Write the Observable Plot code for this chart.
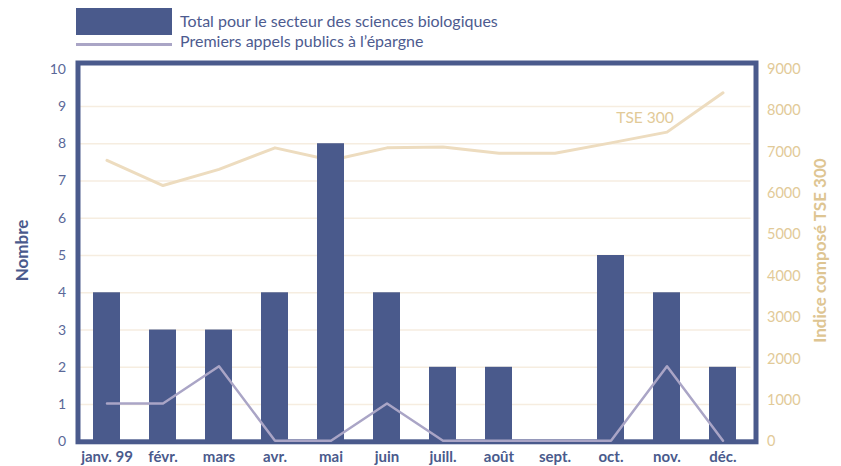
<!DOCTYPE html>
<html><head><meta charset="utf-8">
<script src="https://cdn.jsdelivr.net/npm/d3@7"></script>
<script src="https://cdn.jsdelivr.net/npm/@observablehq/plot@0.6"></script>
<style>
body{margin:0;background:#fff;font-family:Lato,"Open Sans",sans-serif;}
#legend{position:relative;height:55px;width:841px;}
#legend .sw{position:absolute;}
#legend .lb{position:absolute;font-size:16px;color:#4d5b8f;white-space:nowrap;line-height:1;}
</style></head>
<body>
<div id="legend">
  <div class="sw" style="left:76px;top:8px;width:96px;height:27px;background:#4a5a8c"></div>
  <div class="lb" style="left:180px;top:13px">Total pour le secteur des sciences biologiques</div>
  <div class="sw" style="left:76px;top:43px;width:96px;height:3px;background:#aaa5c6"></div>
  <div class="lb" style="left:180px;top:33px">Premiers appels publics à l’épargne</div>
</div>
<div id="chart"></div>
<script>
const months = ["janv. 99","févr.","mars","avr.","mai","juin","juill.","août","sept.","oct.","nov.","déc."];
const totalBio = [4,3,3,4,8,4,2,2,0,5,4,2];
const ipo = [1,1,2,0,0,1,0,0,0,0,2,0];
const tse300 = [6800,6190,6580,7100,6800,7100,7120,6970,6970,7220,7480,8430];
const leftTicks = [0,1,2,3,4,5,6,7,8,9,10];
const rightTicks = [0,1000,2000,3000,4000,5000,6000,7000,8000,9000];
const gridValues = [1,2,3,4,5,6,7,8,9];
const ratio = 900; // 9000 on right axis aligns with 10 on left

const data = months.map((m,i)=>({m, total: totalBio[i], ipo: ipo[i], tse: tse300[i]}));

const navy = "#4a5a8c", lav = "#aaa5c6", beige = "#eddcbf", beigeText = "#e2ca98";

const chart = Plot.plot({
  width: 841, height: 411,
  marginLeft: 78.5, marginRight: 90.5, marginTop: 13.7, marginBottom: 24.7,
  style: {fontFamily: "Lato, 'Open Sans', sans-serif", background: "transparent"},
  x: {domain: months, paddingInner: 0.52, paddingOuter: 0.26, axis: null},
  y: {domain: [0,10], axis: null},
  marks: [
    Plot.ruleY(gridValues, {stroke: "#f6ede0", strokeWidth: 1.5}),
    Plot.lineY(data, {x: "m", y: d => d.tse/ratio, stroke: beige, strokeWidth: 3}),
    Plot.frame({stroke: navy, strokeWidth: 5, insetTop: -6.2, insetRight: -5, insetLeft: -1, insetBottom: 0}),
    Plot.barY(data, {x: "m", y: "total", fill: navy, insetBottom: -2.5}),
    Plot.lineY(data, {x: "m", y: "ipo", stroke: lav, strokeWidth: 2.5, dy: -1}),
    Plot.text([data[10]], {x: "m", y: d => d.tse/ratio, text: () => "TSE 300", dx: -22, dy: -14, fill: beigeText, fontSize: 15.5}),
    Plot.axisY(leftTicks, {anchor: "left", tickSize: 0, tickPadding: 13, fontSize: 14, fill: "#5a6898", label: null}),
    Plot.axisY(rightTicks.map(v => v/ratio), {anchor: "right", tickSize: 0, tickPadding: 16, fontSize: 14.5, fill: beigeText, tickFormat: d => String(Math.round(d*ratio)), label: null}),
    Plot.axisX({tickSize: 0, tickPadding: 10, fontSize: 15, fontWeight: "bold", fill: navy, label: null}),
    Plot.text(["Nombre"], {frameAnchor: "left", textAnchor: "middle", dx: -56.5, dy: -5, rotate: -90, fontSize: 17, fontWeight: "bold", fill: navy}),
    Plot.text(["Indice composé TSE 300"], {frameAnchor: "right", textAnchor: "middle", dx: 69.5, dy: -5, rotate: -90, fontSize: 17, fontWeight: "bold", fill: "#dec592"})
  ]
});
document.getElementById("chart").appendChild(chart);
</script>
</body></html>
